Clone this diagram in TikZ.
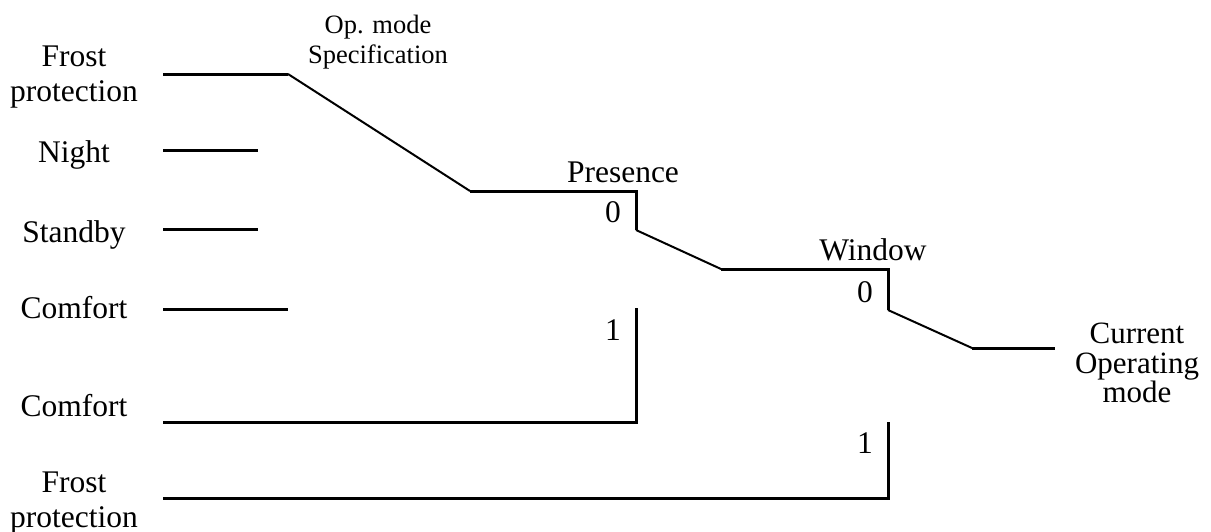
\documentclass[tikz,border=0pt]{standalone}
\usepackage{fontspec}
\setmainfont{Liberation Serif}
\begin{document}
\begin{tikzpicture}[x=0.5pt,y=-0.5pt,
  lbl/.style={font=\fontsize{15.75}{17.5}\selectfont,inner sep=0pt},
  sml/.style={font=\fontsize{13.25}{15}\selectfont,inner sep=0pt},
  wire/.style={line width=1.5pt},
  arm/.style={line width=1pt}]
\useasboundingbox (0,0) rectangle (1211,531);

%INPUTS
\pgfmathsetmacro{\xin}{163}
\pgfmathsetmacro{\xlab}{74}
  \node (frostA) at (\xlab,45) [lbl,anchor=north,align=center] {Frost\\protection};
  \node (night) at (\xlab,162) [lbl,anchor=base] {Night};
  \node (standby) at (\xlab,242) [lbl,anchor=base] {Standby};
  \node (comfortA) at (\xlab,318) [lbl,anchor=base] {Comfort};
  \node (comfortB) at (\xlab,416) [lbl,anchor=base] {Comfort};
  \node (frostB) at (\xlab,471) [lbl,anchor=north,align=center] {Frost\\protection};
  \coordinate (fa) at (\xin,74);   \coordinate (fb) at (288,74);
  \coordinate (na) at (\xin,150);  \coordinate (nb) at (258,150);
  \coordinate (sa) at (\xin,229);  \coordinate (sb) at (258,229);
  \coordinate (ca) at (\xin,309);  \coordinate (cb) at (288,309);
  \draw[wire](fa)--(fb);
  \draw[wire](na)--(nb);
  \draw[wire](sa)--(sb);
  \draw[wire](ca)--(cb);
  \node (opmode) at (378,33) [sml,anchor=base] {Op. mode};
  \node (opspec) at (378,63) [sml,anchor=base] {Specification};

%PRESENCE
\pgfmathsetmacro{\px}{636}
  \node (presence) at (623,182) [lbl,anchor=base] {Presence};
  \node (pzero) at (613,222) [lbl,anchor=base] {0};
  \node (pone) at (613,340) [lbl,anchor=base] {1};
  \coordinate (pa) at (470,191);
  \coordinate (pb) at (\px,230);
  \coordinate (pc) at (\px,308);
  \coordinate (pd) at (\xin,422);
  \draw[arm](fb)--(pa);
  \draw[wire](pa)-|(pb);
  \draw[wire](pc)|-(pd);

%WINDOW
\pgfmathsetmacro{\wx}{888}
  \node (window) at (873,260) [lbl,anchor=base] {Window};
  \node (wzero) at (865,302) [lbl,anchor=base] {0};
  \node (wone) at (865,453) [lbl,anchor=base] {1};
  \coordinate (wa) at (721,269);
  \coordinate (wb) at (\wx,310);
  \coordinate (wc) at (\wx,422);
  \coordinate (wd) at (\xin,498);
  \draw[arm](pb)--(wa);
  \draw[wire](wa)-|(wb);
  \draw[wire](wc)|-(wd);

%OUTPUT
  \coordinate (oa) at (972,348);
  \coordinate (ob) at (1055,348);
  \draw[arm](wb)--(oa);
  \draw[wire](oa)--(ob);
  \node (current) at (1137,323) [font=\fontsize{15.5}{14.75}\selectfont,inner sep=0pt,anchor=north,align=center] {Current\\Operating\\mode};
\end{tikzpicture}
\end{document}
